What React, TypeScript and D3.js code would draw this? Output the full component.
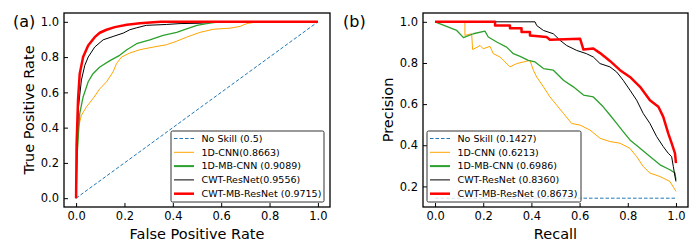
import React, { useEffect, useRef } from 'react';
import * as d3 from 'd3';

// ROC curves, [false positive rate, true positive rate]
const rocNoSkill = [[0, 0], [1, 1]];
const rocCnn = [[0, 0], [0.004, 0.235], [0.01, 0.405], [0.022, 0.47], [0.043, 0.518], [0.07, 0.565], [0.098, 0.62],
  [0.126, 0.66], [0.153, 0.716], [0.167, 0.763], [0.188, 0.8], [0.222, 0.823], [0.264, 0.842], [0.32, 0.857],
  [0.374, 0.87], [0.416, 0.89], [0.457, 0.913], [0.512, 0.94], [0.568, 0.958], [0.637, 0.964], [0.678, 0.974],
  [0.706, 0.99], [0.733, 0.996], [0.75, 1], [1, 1]];
const rocMbCnn = [[0, 0], [0.004, 0.235], [0.015, 0.48], [0.029, 0.574], [0.05, 0.66], [0.07, 0.706], [0.098, 0.744],
  [0.14, 0.78], [0.18, 0.81], [0.21, 0.842], [0.25, 0.876], [0.305, 0.898], [0.36, 0.923], [0.416, 0.94],
  [0.457, 0.96], [0.5, 0.98], [0.54, 0.99], [0.568, 0.996], [0.6, 1], [1, 1]];
const rocResNet = [[0, 0], [0.004, 0.31], [0.01, 0.52], [0.022, 0.67], [0.036, 0.753], [0.05, 0.8], [0.077, 0.857],
  [0.112, 0.898], [0.153, 0.917], [0.195, 0.936], [0.222, 0.955], [0.25, 0.966], [0.29, 0.98], [0.374, 0.985],
  [0.43, 0.99], [0.512, 0.992], [0.568, 1], [1, 1]];
const rocMbResNet = [[0, 0], [0.002, 0.3], [0.008, 0.556], [0.015, 0.706], [0.029, 0.8], [0.05, 0.866], [0.077, 0.913],
  [0.098, 0.938], [0.126, 0.955], [0.16, 0.97], [0.21, 0.983], [0.264, 0.992], [0.32, 0.998], [0.35, 1], [1, 1]];

// PR curves, [recall, precision]
const prNoSkill = [[0, 0.1427], [1, 0.1427]];
const prCnn = [[0, 1], [0.124, 1], [0.124, 0.934], [0.152, 0.942], [0.156, 0.865], [0.187, 0.885], [0.2, 0.869],
  [0.228, 0.881], [0.242, 0.845], [0.27, 0.829], [0.284, 0.813], [0.311, 0.781], [0.339, 0.797], [0.367, 0.805],
  [0.394, 0.813], [0.408, 0.765], [0.422, 0.732], [0.45, 0.684], [0.477, 0.635], [0.505, 0.595], [0.533, 0.555],
  [0.567, 0.506], [0.602, 0.498], [0.643, 0.474], [0.685, 0.434], [0.726, 0.418], [0.768, 0.41], [0.809, 0.385],
  [0.837, 0.345], [0.864, 0.297], [0.892, 0.265], [0.934, 0.248], [0.975, 0.224], [1, 0.176]];
const prMbCnn = [[0, 1], [0.09, 0.958], [0.118, 0.923], [0.159, 0.942], [0.207, 0.955], [0.221, 0.926], [0.256, 0.902],
  [0.297, 0.877], [0.325, 0.845], [0.353, 0.832], [0.387, 0.813], [0.415, 0.805], [0.45, 0.773], [0.491, 0.765],
  [0.533, 0.716], [0.574, 0.684], [0.616, 0.644], [0.657, 0.635], [0.698, 0.587], [0.726, 0.547], [0.754, 0.506],
  [0.781, 0.466], [0.809, 0.426], [0.851, 0.385], [0.892, 0.345], [0.934, 0.305], [0.975, 0.281], [0.996, 0.265],
  [1, 0.232]];
const prResNet = [[0, 1], [0.415, 1], [0.422, 0.982], [0.45, 0.958], [0.491, 0.942], [0.519, 0.91], [0.546, 0.885],
  [0.588, 0.861], [0.629, 0.845], [0.657, 0.829], [0.685, 0.797], [0.726, 0.781], [0.754, 0.756], [0.781, 0.716],
  [0.809, 0.668], [0.837, 0.619], [0.864, 0.555], [0.892, 0.506], [0.92, 0.442], [0.947, 0.394], [0.968, 0.361],
  [0.982, 0.345], [0.989, 0.297], [0.996, 0.248], [1, 0.224]];
const prMbResNet = [[0, 1], [0.249, 1], [0.249, 0.982], [0.311, 0.982], [0.311, 0.969], [0.359, 0.969], [0.359, 0.95],
  [0.394, 0.95], [0.394, 0.934], [0.463, 0.926], [0.477, 0.913], [0.602, 0.918], [0.616, 0.865], [0.657, 0.87],
  [0.685, 0.848], [0.726, 0.81], [0.768, 0.765], [0.809, 0.732], [0.851, 0.684], [0.892, 0.619], [0.927, 0.587],
  [0.947, 0.539], [0.968, 0.458], [0.982, 0.41], [0.996, 0.361], [1, 0.313]];

const rocLabels = ['No Skill (0.5)', '1D-CNN(0.8663)', '1D-MB-CNN (0.9089)', 'CWT-ResNet(0.9556)', 'CWT-MB-ResNet (0.9715)'];
const prLabels = ['No Skill (0.1427)', '1D-CNN (0.6213)', '1D-MB-CNN (0.6986)', 'CWT-ResNet (0.8360)', 'CWT-MB-ResNet (0.8673)'];
const ticks = [0, 0.2, 0.4, 0.6, 0.8, 1.0];
const prYTicks = [0.2, 0.4, 0.6, 0.8, 1.0];

const styles = [
  { color: '#1f77b4', width: 1, dash: '3.5,2' },
  { color: '#ffa500', width: 1, dash: null },
  { color: '#2ca02c', width: 1.3, dash: null },
  { color: '#000000', width: 1, dash: null },
  { color: '#ff0000', width: 2.5, dash: null },
];

const FONT = 'DejaVu Sans, sans-serif';

function drawPanel(svg, opts) {
  const { left, right, top, bottom, yDomain, yTicks, series, labels, legend, xLabel, yLabel, yLabelX, tag, tagX } = opts;

  const x = d3.scaleLinear().domain([-0.05, 1.05]).range([left, right]);
  const y = d3.scaleLinear().domain(yDomain).range([bottom, top]);

  const g = svg.append('g');

  const line = d3.line().x(d => x(d[0])).y(d => y(d[1]));

  series.forEach((data, i) => {
    const s = styles[i];
    g.append('path')
      .datum(data)
      .attr('fill', 'none')
      .attr('stroke', s.color)
      .attr('stroke-width', s.width)
      .attr('stroke-dasharray', s.dash)
      .attr('stroke-linejoin', 'round')
      .attr('d', line);
  });

  // axes with inward ticks
  const xAxis = g.append('g')
    .attr('transform', 'translate(0,' + bottom + ')')
    .call(d3.axisBottom(x).tickValues(ticks).tickFormat(d3.format('.1f')).tickSizeInner(-4).tickSizeOuter(0).tickPadding(5));
  xAxis.select('.domain').remove();

  const yAxis = g.append('g')
    .attr('transform', 'translate(' + left + ',0)')
    .call(d3.axisLeft(y).tickValues(yTicks).tickFormat(d3.format('.1f')).tickSizeInner(-4).tickSizeOuter(0).tickPadding(5));
  yAxis.select('.domain').remove();

  [xAxis, yAxis].forEach(a => {
    a.selectAll('text').attr('font-family', FONT).attr('font-size', 11.5).attr('fill', '#000');
    a.selectAll('line').attr('stroke', '#000').attr('stroke-width', 1);
  });

  // frame
  g.append('rect')
    .attr('x', left).attr('y', top)
    .attr('width', right - left).attr('height', bottom - top)
    .attr('fill', 'none').attr('stroke', '#000').attr('stroke-width', 1.3);

  // legend
  const lg = g.append('g').attr('transform', 'translate(' + legend.x + ',' + legend.y + ')');
  lg.append('rect')
    .attr('width', legend.w).attr('height', legend.h)
    .attr('rx', 1.5)
    .attr('fill', 'white').attr('fill-opacity', 0.8)
    .attr('stroke', '#333').attr('stroke-width', 1);
  labels.forEach((lab, i) => {
    const s = styles[i];
    const yy = 7.5 + i * 13.8;
    lg.append('line')
      .attr('x1', 3).attr('x2', 23).attr('y1', yy).attr('y2', yy)
      .attr('stroke', s.color).attr('stroke-width', i === 2 ? 2 : s.width)
      .attr('stroke-dasharray', s.dash);
    lg.append('text')
      .attr('x', 30.5).attr('y', yy).attr('dy', '0.35em')
      .attr('font-family', FONT).attr('font-size', 9.5)
      .text(lab);
  });

  // axis labels
  g.append('text')
    .attr('x', (left + right) / 2).attr('y', 239)
    .attr('text-anchor', 'middle')
    .attr('font-family', FONT).attr('font-size', 14.5)
    .text(xLabel);
  g.append('text')
    .attr('transform', 'translate(' + yLabelX + ',' + (top + bottom) / 2 + ') rotate(-90)')
    .attr('text-anchor', 'middle')
    .attr('font-family', FONT).attr('font-size', 14.5)
    .text(yLabel);

  g.append('text')
    .attr('x', tagX).attr('y', 27)
    .attr('font-family', FONT).attr('font-size', 16)
    .text(tag);
}

function App() {
  const ref = useRef(null);

  useEffect(() => {
    const svg = d3.select(ref.current);
    svg.selectAll('*').remove();

    drawPanel(svg, {
      left: 64, right: 330, top: 13, bottom: 207,
      yDomain: [-0.05, 1.05], yTicks: ticks,
      series: [rocNoSkill, rocCnn, rocMbCnn, rocResNet, rocMbResNet],
      labels: rocLabels,
      legend: { x: 171, y: 131, w: 153, h: 71 },
      xLabel: 'False Positive Rate', yLabel: 'True Positive Rate', yLabelX: 34,
      tag: '(a)', tagX: 13,
    });

    drawPanel(svg, {
      left: 423, right: 688, top: 13, bottom: 207,
      yDomain: [0.0999, 1.0429], yTicks: prYTicks,
      series: [prNoSkill, prCnn, prMbCnn, prResNet, prMbResNet],
      labels: prLabels,
      legend: { x: 427, y: 131, w: 154, h: 71 },
      xLabel: 'Recall', yLabel: 'Precision', yLabelX: 393,
      tag: '(b)', tagX: 343,
    });
  }, []);

  return (
    <div>
      <svg ref={ref} width={692} height={246} style={{ position: 'absolute', left: 0, top: 0, background: 'white' }}></svg>
    </div>
  );
}

export default App;
